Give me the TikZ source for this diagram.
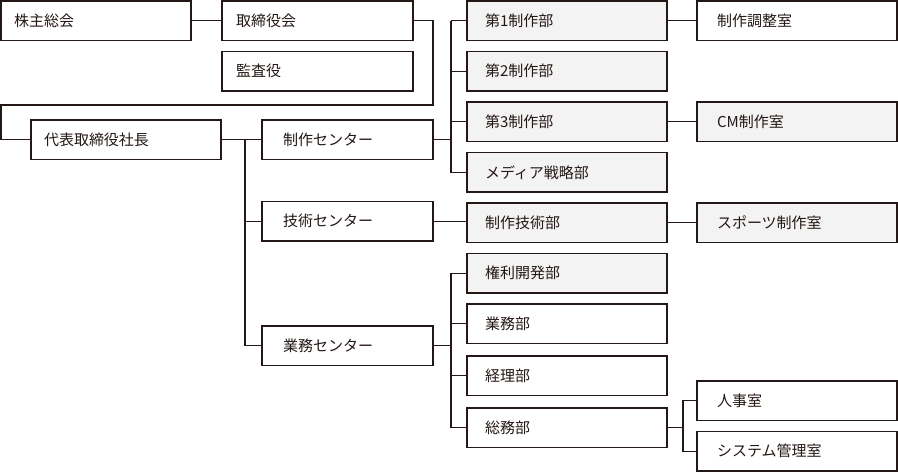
\documentclass[tikz,border=0pt]{standalone}
\usepackage{fontspec}
\setmainfont{Noto Sans CJK JP}
\usetikzlibrary{positioning}
\definecolor{linec}{HTML}{231815}
\definecolor{boxfill}{HTML}{F4F3F3}

\begin{document}
\begin{tikzpicture}[x=1pt, y=-1pt, node distance=11pt, line width=1.1pt, color=linec,
  box/.style={draw=linec, rectangle, minimum height=39.5pt, inner ysep=0pt, outer sep=0pt, align=left, font=\fontsize{15}{18}\selectfont},
  topbox/.style={box, text width=164pt, inner xsep=13pt},
  ctrbox/.style={box, text width=129pt, inner xsep=21pt},
  deptbox/.style={box, text width=164pt, inner xsep=18pt, fill=boxfill},
  roombox/.style={box, text width=160pt, inner xsep=20pt}]
    \useasboundingbox (0,0) rectangle (898,472);

    % Top management
    \node[topbox, anchor=north west] (kabu) at (1,1) {株主総会};
    \node[topbox, text width=163pt, inner xsep=14pt, right=31pt of kabu] (tori) {取締役会};
    \node[topbox, text width=163pt, inner xsep=14pt, below=of tori] (kansa) {監査役};
    \node[topbox, anchor=north west] (daihyo) at (31,120) {代表取締役社長};

    % Centers
    \node[ctrbox, right=41pt of daihyo] (seisakuC) {制作センター};
    \node[ctrbox, below=42pt of seisakuC] (gijutsuC) {技術センター};
    \node[ctrbox, below=85pt of gijutsuC] (gyomuC) {業務センター};

    % Departments
    \node[deptbox, anchor=north west] (dai1) at (467,1) {第1制作部};
    \node[deptbox, below=of dai1] (dai2) {第2制作部};
    \node[deptbox, below=of dai2] (dai3) {第3制作部};
    \node[deptbox, below=of dai3] (media) {メディア戦略部};
    \node[deptbox, below=of media] (gitech) {制作技術部};
    \node[deptbox, below=of gitech] (kenri) {権利開発部};
    \node[deptbox, fill=white, below=of kenri] (gyomu) {業務部};
    \node[deptbox, fill=white, below=12.5pt of gyomu] (keiri) {経理部};
    \node[deptbox, fill=white, below=12.5pt of keiri] (somu) {総務部};

    % Rooms
    \node[roombox, right=30pt of dai1] (chosei) {制作調整室};
    \node[roombox, fill=boxfill, right=30pt of dai3] (cm) {CM制作室};
    \node[roombox, fill=boxfill, right=30pt of gitech] (sports) {スポーツ制作室};
    \node[roombox, right=30pt of somu, yshift=27pt] (jinji) {人事室};
    \node[roombox, below=11pt of jinji] (system) {システム管理室};

    % Connectors
    \coordinate (turn1) at (433,105);
    \coordinate (turn2) at (1,105);
    \coordinate (trunk) at (245,140);
    \coordinate (bus1) at ([xshift=-16pt]dai1.west);
    \coordinate (bus2) at ([xshift=-16pt]kenri.west);
    \coordinate (bus3) at ([xshift=-14pt]jinji.west);

    \draw (kabu.east) -- (tori.west);
    \draw (tori.east) -| (turn1) -- (turn2) |- (daihyo.west);
    \draw (daihyo.east) -- (seisakuC.west);
    \draw (trunk) |- (gijutsuC.west);
    \draw (trunk) |- (gyomuC.west);

    \draw (seisakuC.east) -- (seisakuC.east -| bus1);
    \draw (bus1) |- (media.west);
    \foreach \n in {dai1,dai2,dai3}
        \draw (bus1 |- \n.west) -- (\n.west);
    \draw (dai1.east) -- (chosei.west);
    \draw (dai3.east) -- (cm.west);

    \draw (gijutsuC.east) -- (gijutsuC.east -| gitech.west);
    \draw (gitech.east) -- (sports.west);

    \draw (gyomuC.east) -- (gyomuC.east -| bus2);
    \draw (bus2) |- (somu.west);
    \foreach \n in {kenri,gyomu,keiri}
        \draw (bus2 |- \n.west) -- (\n.west);

    \draw (somu.east) -- (somu.east -| bus3);
    \draw (jinji.west) -| (bus3 |- system.west) -- (system.west);
\end{tikzpicture}
\end{document}
